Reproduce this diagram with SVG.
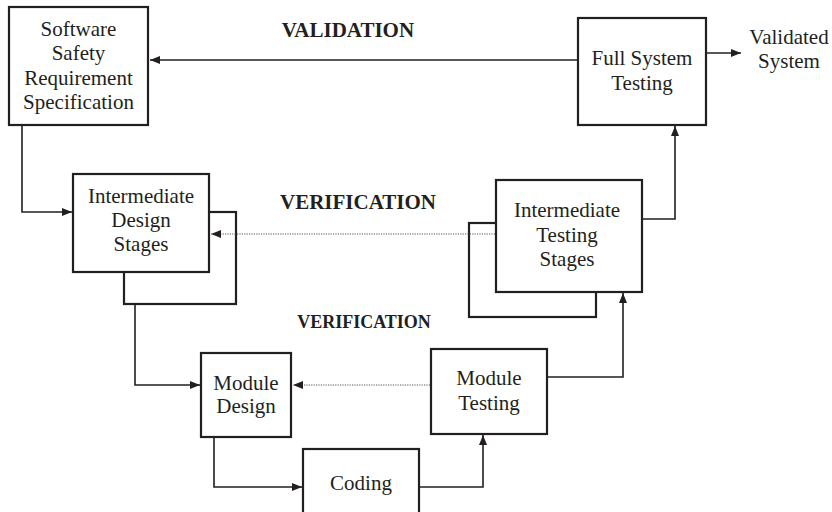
<svg xmlns="http://www.w3.org/2000/svg" width="832" height="512" viewBox="0 0 832 512">
<style>
.box{fill:#fff;stroke:#231f20;stroke-width:2.2}
.t{font-family:"Liberation Serif","Times New Roman",serif;font-size:21px;fill:#231f20;text-anchor:middle}
.b{font-family:"Liberation Serif","Times New Roman",serif;font-weight:bold;fill:#231f20;text-anchor:middle}
.c{fill:none;stroke:#231f20;stroke-width:1.6}
.d{fill:none;stroke:#555;stroke-width:1.2;stroke-dasharray:1.2 1.2}
</style>
<defs>
<marker id="ah" markerUnits="userSpaceOnUse" markerWidth="11" markerHeight="9" refX="10" refY="4" orient="auto">
<path d="M0,0 L10,4 L0,8 z" fill="#231f20"/>
</marker>
</defs>
<rect width="832" height="512" fill="#fff"/>
<g id="srs">
<rect class="box" x="9" y="7" width="139" height="118"/>
<text class="t" x="78.5" y="36">Software</text>
<text class="t" x="78.5" y="60">Safety</text>
<text class="t" x="78.5" y="85">Requirement</text>
<text class="t" x="78.5" y="109">Specification</text>
</g>
<g id="fst">
<rect class="box" x="578" y="18" width="128" height="107"/>
<text class="t" x="642" y="65">Full System</text>
<text class="t" x="642" y="90">Testing</text>
</g>
<g id="validated">
<text class="t" x="789" y="44">Validated</text>
<text class="t" x="789" y="68">System</text>
</g>
<g id="ids">
<rect class="box" x="124" y="212" width="112" height="92"/>
<rect class="box" x="73" y="174" width="136" height="98"/>
<text class="t" x="141" y="203">Intermediate</text>
<text class="t" x="141" y="227">Design</text>
<text class="t" x="141" y="251">Stages</text>
</g>
<g id="its">
<rect class="box" x="469" y="223" width="127" height="94"/>
<rect class="box" x="496" y="180" width="146" height="112"/>
<text class="t" x="567" y="217">Intermediate</text>
<text class="t" x="567" y="242">Testing</text>
<text class="t" x="567" y="266">Stages</text>
</g>
<g id="md">
<rect class="box" x="201" y="353" width="90" height="84"/>
<text class="t" x="246" y="390">Module</text>
<text class="t" x="246" y="413">Design</text>
</g>
<g id="mt">
<rect class="box" x="431" y="349" width="116" height="85"/>
<text class="t" x="489" y="385">Module</text>
<text class="t" x="489" y="410">Testing</text>
</g>
<g id="coding">
<rect class="box" x="303" y="449" width="116" height="80"/>
<text class="t" x="361" y="490">Coding</text>
</g>
<g id="labels">
<text class="b" x="348" y="37" font-size="21">VALIDATION</text>
<text class="b" x="358" y="209" font-size="21">VERIFICATION</text>
<text class="b" x="364" y="328" font-size="18">VERIFICATION</text>
</g>
<g id="connectors">
<line class="c" x1="577" y1="60" x2="150" y2="60" marker-end="url(#ah)"/>
<line class="c" x1="707" y1="53" x2="741" y2="53" marker-end="url(#ah)"/>
<polyline class="c" points="22,126 22,212 72,212" marker-end="url(#ah)"/>
<polyline class="c" points="135,305 135,385 200,385" marker-end="url(#ah)"/>
<polyline class="c" points="214,438 214,487 302,487" marker-end="url(#ah)"/>
<polyline class="c" points="420,487 483,487 483,435" marker-end="url(#ah)"/>
<polyline class="c" points="548,377 623,377 623,293" marker-end="url(#ah)"/>
<polyline class="c" points="643,219 675,219 675,126" marker-end="url(#ah)"/>
<line class="d" x1="495" y1="234" x2="211" y2="234" marker-end="url(#ah)"/>
<line class="d" x1="430" y1="385" x2="293" y2="385" marker-end="url(#ah)"/>
</g>
</svg>
